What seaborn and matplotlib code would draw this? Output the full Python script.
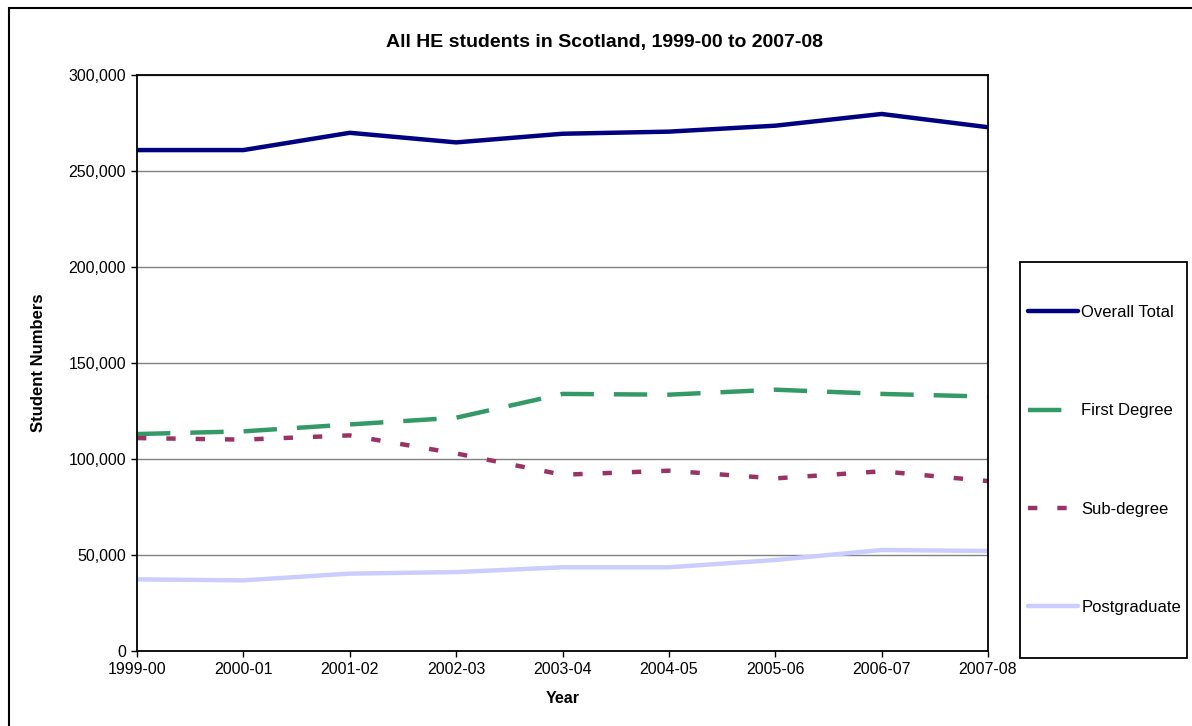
import numpy as np
import pandas as pd
import matplotlib
matplotlib.use("Agg")
import matplotlib.pyplot as plt
from matplotlib.patches import Rectangle
import seaborn as sns

years = ["1999-00", "2000-01", "2001-02", "2002-03", "2003-04",
         "2004-05", "2005-06", "2006-07", "2007-08"]
overall_total = [260900, 260900, 269900, 264900, 269400, 270500, 273600, 279700, 272800]
first_degree = [113000, 114400, 118000, 121500, 133900, 133500, 136100, 133900, 132500]
sub_degree = [110900, 110100, 112300, 102900, 91800, 93900, 89900, 93600, 88500]
postgraduate = [37300, 36800, 40300, 41100, 43600, 43600, 47400, 52600, 52100]
series_names = ["Overall Total", "First Degree", "Sub-degree", "Postgraduate"]

df = pd.concat([
    pd.DataFrame({"Year": years, "Students": vals, "Series": name})
    for name, vals in zip(series_names, [overall_total, first_degree, sub_degree, postgraduate])
], ignore_index=True)

sns.set_theme(style="white")
plt.rcParams["font.family"] = ["Liberation Sans", "DejaVu Sans"]
plt.rcParams["text.color"] = "black"
plt.rcParams["axes.labelcolor"] = "black"
plt.rcParams["xtick.color"] = "black"
plt.rcParams["ytick.color"] = "black"

fig = plt.figure(figsize=(11.92, 7.26), dpi=100)
W, H = 1192, 726
ax = fig.add_axes([137 / W, 1 - 651 / H, (988 - 137) / W, (651 - 75) / H])

palette = {"Overall Total": "#000080", "First Degree": "#339966",
           "Sub-degree": "#993366", "Postgraduate": "#CCCCFF"}
dashes = {"Overall Total": "", "First Degree": (7.5, 4.5),
          "Sub-degree": (2.1, 4.5), "Postgraduate": ""}

sns.lineplot(data=df, x="Year", y="Students", hue="Series", style="Series",
             palette=palette, dashes=dashes, linewidth=3.2, ax=ax,
             hue_order=series_names, style_order=series_names, sort=False)

ax.set_xlim(0, len(years) - 1)
ax.set_ylim(0, 300000)
ax.set_yticks(np.arange(0, 300001, 50000))
ax.yaxis.set_major_formatter(matplotlib.ticker.FuncFormatter(lambda v, p: f"{int(v):,}"))
ax.grid(axis="y", color="#808080", linewidth=1.0)
ax.set_axisbelow(True)
for s in ax.spines.values():
    s.set_visible(True)
    s.set_color("black")
    s.set_linewidth(1.3)
ax.tick_params(axis="both", direction="out", length=4, width=1, color="black",
               labelsize=11.5, labelcolor="black", pad=4,
               bottom=True, left=True)
ax.set_xlabel("Year", fontsize=11.5, fontweight="bold", labelpad=10)
ax.set_ylabel("Student Numbers", fontsize=12, fontweight="bold", labelpad=16)

fig.text(604 / W, 1 - 42 / H, "All HE students in Scotland, 1999-00 to 2007-08",
         ha="center", va="center", fontsize=14, fontweight="bold", color="black")

# legend
leg = ax.legend(loc="center left", bbox_to_anchor=(1028 / W, 1 - 460 / H),
                bbox_transform=fig.transFigure, frameon=False, fontsize=12,
                handlelength=3.0, handletextpad=0.2, labelspacing=5.0,
                borderpad=0, borderaxespad=0, title=None)
for t in leg.get_texts():
    t.set_color("black")

fig.patches.append(Rectangle((1020 / W, 1 - 658 / H), (1187 - 1020) / W, (658 - 262) / H,
                             transform=fig.transFigure, fill=False, edgecolor="black",
                             linewidth=1.3, figure=fig))
fig.patches.append(Rectangle((9 / W, -0.02), 1.05, 1 - 8 / H + 0.02,
                             transform=fig.transFigure, fill=False, edgecolor="black",
                             linewidth=1.5, figure=fig))

fig.savefig("out.png", dpi=100)
